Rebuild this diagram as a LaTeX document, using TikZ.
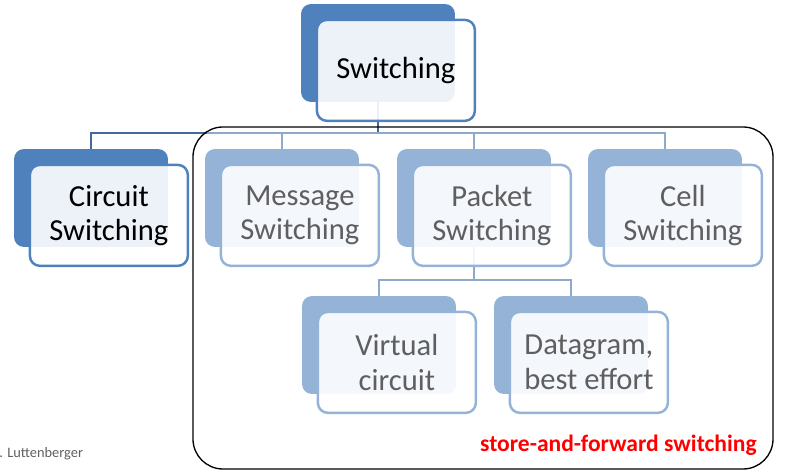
\documentclass[tikz,border=0pt]{standalone}
\usepackage{fontspec}
\setmainfont{Carlito}
\usetikzlibrary{positioning}
\definecolor{topblue}{HTML}{4F81BD}
\definecolor{paleblue}{HTML}{95B3D7}
\definecolor{linkdark}{HTML}{41699B}
\definecolor{linkpale}{HTML}{8DA9CB}
\definecolor{fadetext}{HTML}{5F5F5F}
\tikzset{
    backbox/.style={rounded corners=0.2cm, minimum width=3.08cm, minimum height=1.96cm, inner sep=0pt, fill=#1},
    frontbox/.style={rounded corners=0.2cm, minimum width=3.16cm, minimum height=2.02cm, inner sep=0pt,
        draw=#1, line width=1.4pt, fill=white, fill opacity=0.9, text opacity=1, align=center,
        below right=0.3cm and 0.3cm, font=\fontsize{17.4}{19.6}\selectfont},
    darklink/.style={draw=linkdark, line width=1.3pt},
    palelink/.style={draw=linkpale, line width=1.3pt},
}

\begin{document}
\begin{tikzpicture}[x=0.02cm,y=-0.02cm]
\useasboundingbox (0,0) rectangle (785,475);
% back boxes
\node[backbox=topblue] (sw) at (378,53) {};
\node[backbox=topblue] (cs) at (91,198) {};
\node[backbox=paleblue] (ms) at (282,198) {};
\node[backbox=paleblue] (ps) at (474,198) {};
\node[backbox=paleblue] (cl) at (665,198) {};
\node[backbox=paleblue] (vc) at (379,345) {};
\node[backbox=paleblue] (dg) at (571,345) {};
% connectors
\coordinate (hub) at (378,133);
\coordinate (cut) at (207,133);
\coordinate (hub2) at (474,280);
\draw[darklink] (sw.south) -- (hub) -| (cs.north);
\draw[palelink] (cut) -- (cl.north |- hub) -- (cl.north);
\draw[palelink] (ms.north |- hub) -- (ms.north);
\draw[palelink] (ps.north |- hub) -- (ps.north);
\draw[palelink] (ps.south) -- (hub2);
\draw[palelink] (vc.north) |- (hub2) -| (dg.north);
% store-and-forward frame
\draw[line width=0.75pt, rounded corners=0.6cm] (193,127) rectangle (773,469);
% front boxes
\node[frontbox=topblue] (swF) at (sw.north west) {Switching};
\node[frontbox=topblue] (csF) at (cs.north west) {Circuit\\Switching};
\node[frontbox=paleblue, text=fadetext] (msF) at (ms.north west) {Message\\Switching};
\node[frontbox=paleblue, text=fadetext] (psF) at (ps.north west) {Packet\\Switching};
\node[frontbox=paleblue, text=fadetext] (clF) at (cl.north west) {Cell\\Switching};
\node[frontbox=paleblue, text=fadetext] (vcF) at (vc.north west) {Virtual\\circuit};
\node[frontbox=paleblue, text=fadetext] (dgF) at (dg.north west) {Datagram,\\best effort};
% labels
\node[anchor=base east, inner sep=0pt, text=red, font=\bfseries\fontsize{13.4}{16}\selectfont] (sfs) at (757,452) {store-and-forward switching};
\node[anchor=base west, inner sep=0pt, text=fadetext, font=\fontsize{8.2}{10}\selectfont] (auth) at (-1,458) {. Luttenberger};
\end{tikzpicture}
\end{document}
